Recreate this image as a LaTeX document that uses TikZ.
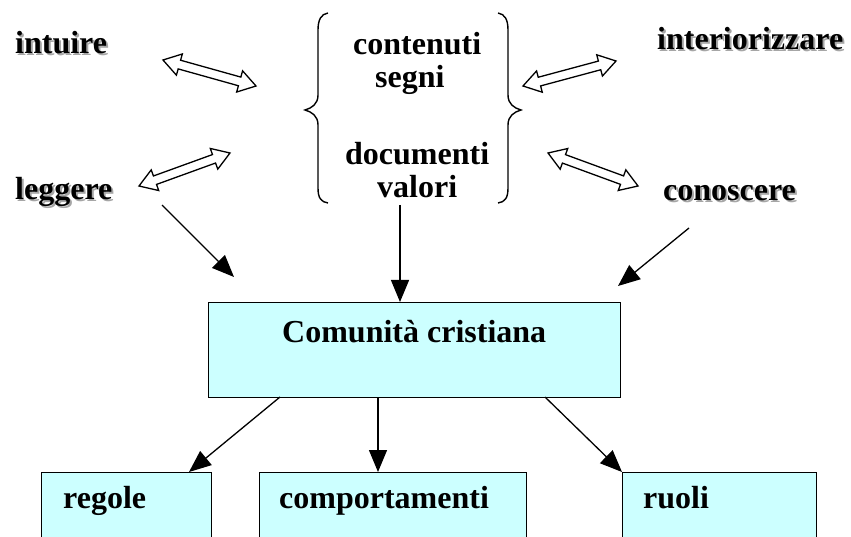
\documentclass[tikz,border=0pt]{standalone}
\usepackage{fontspec}
\setmainfont{Liberation Serif}
\usetikzlibrary{arrows.meta,calc}
\definecolor{boxcyan}{HTML}{CCFFFF}
\tikzset{
 lbl/.style={font=\fontsize{32}{38}\selectfont\bfseries, inner sep=0pt, anchor=base west},
 box/.style={draw=black, line width=1.3pt, fill=boxcyan},
 conn/.style={line width=1.3pt, -{Triangle[length=22pt,width=18pt]}},
 hollow/.style={draw=black, line width=1.3pt, fill=white, line join=miter},
 brace/.style={line width=1.4pt}
}
\newcommand\dblarr[2]{%
 \coordinate (#1h) at ($(#1)!17pt!(#2)$);
 \coordinate (#2h) at ($(#2)!17pt!(#1)$);
 \draw[hollow] (#1) -- ($(#1h)!11pt!90:(#2)$) -- ($(#1h)!4.5pt!90:(#2)$) -- ($(#2h)!4.5pt!-90:(#1)$) -- ($(#2h)!11pt!-90:(#1)$) -- (#2) -- ($(#2h)!11pt!90:(#1)$) -- ($(#2h)!4.5pt!90:(#1)$) -- ($(#1h)!4.5pt!-90:(#2)$) -- ($(#1h)!11pt!-90:(#2)$) -- cycle;}
\newcommand\shtext[1]{\rlap{\kern2pt\raisebox{-2pt}{\color{black!35}#1}}#1}
\begin{document}
\begin{tikzpicture}[x=1pt,y=-1pt]
\clip (0,0) rectangle (851,537);
\fill[white] (0,0) rectangle (851,537);
% side labels
\node[lbl] (intuire) at (15,54) {\shtext{intuire}};
\node[lbl] (interior) at (657,50) {\shtext{interiorizzare}};
\node[lbl] (leggere) at (15,200) {\shtext{leggere}};
\node[lbl] (conoscere) at (663,201) {\shtext{conoscere}};
% brace texts
\node[lbl] (contenuti) at (353,55) {contenuti};
\node[lbl] (segni) at (375,88) {segni};
\node[lbl] (documenti) at (345,165) {documenti};
\node[lbl] (valori) at (377,198) {valori};
% braces
\draw[brace] (328,13) .. controls (321,14) and (318,20) .. (318,30) -- (318,95) .. controls (318,104) and (312,108) .. (305,110) .. controls (312,112) and (318,116) .. (318,125) -- (318,188) .. controls (318,198) and (321,202) .. (328,203);
\draw[brace] (498,13) .. controls (505,14) and (508,20) .. (508,30) -- (508,95) .. controls (508,104) and (514,108) .. (521,110) .. controls (514,112) and (508,116) .. (508,125) -- (508,188) .. controls (508,198) and (505,202) .. (498,203);
% double arrows
\coordinate (i1) at (163,60); \coordinate (i2) at (256,86);
\coordinate (l1) at (139,186); \coordinate (l2) at (230,153);
\coordinate (r1) at (523,86); \coordinate (r2) at (616,61);
\coordinate (c1) at (548,153); \coordinate (c2) at (638,186);
\dblarr{i1}{i2}
\dblarr{l1}{l2}
\dblarr{r1}{r2}
\dblarr{c1}{c2}
% main box
\node[box, minimum width=412pt, minimum height=95pt, anchor=north west, inner sep=0pt] (comm) at (208,302) {};
\node[lbl] (commtxt) at (282,342) {Comunità cristiana};
% lower boxes
\node[box, minimum width=170pt, minimum height=90pt, anchor=north west, inner sep=0pt] (regbox) at (41,472) {};
\node[box, minimum width=267pt, minimum height=90pt, anchor=north west, inner sep=0pt] (compbox) at (259,472) {};
\node[box, minimum width=194pt, minimum height=90pt, anchor=north west, inner sep=0pt] (ruolibox) at (622,472) {};
\node[lbl] (regole) at (63,508) {regole};
\node[lbl] (comport) at (279,508) {comportamenti};
\node[lbl] (ruoli) at (643,508) {ruoli};
% solid arrows
\coordinate (ls) at (162,205); \coordinate (le) at (234,277);
\coordinate (cs) at (689,228); \coordinate (ce) at (618,286);
\coordinate (vs) at (400,205);
\draw[conn] (ls) -- (le);
\draw[conn] (cs) -- (ce);
\draw[conn] (vs) -- (comm.north -| vs);
\coordinate (b1) at (280,397); \coordinate (b2) at (378,397); \coordinate (b3) at (545,397);
\draw[conn] (b1) -- (189,472);
\draw[conn] (b2) -- (b2 |- compbox.north);
\draw[conn] (b3) -- (ruolibox.north west);
\end{tikzpicture}
\end{document}
